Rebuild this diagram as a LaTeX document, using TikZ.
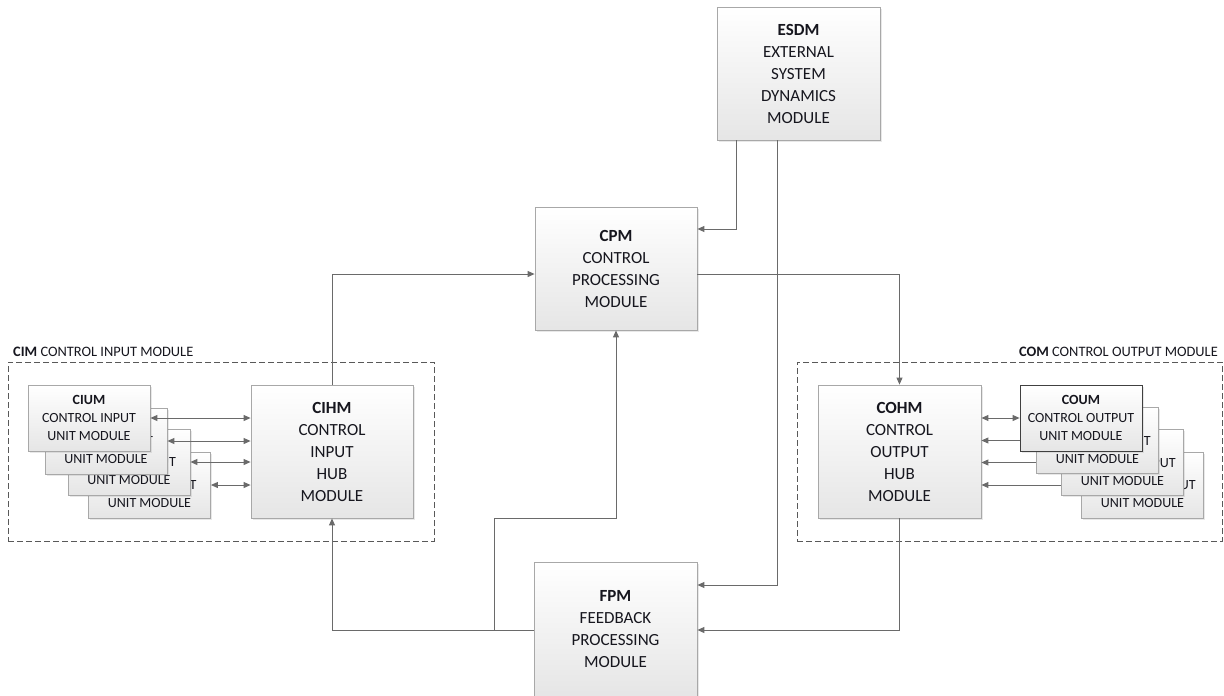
\documentclass[tikz,border=0pt]{standalone}
\usepackage{fontspec}
\setmainfont{Carlito}
\usetikzlibrary{arrows.meta,shadows}
\definecolor{linecol}{HTML}{6A6A6A}
\definecolor{boxline}{HTML}{A8A8A8}
\definecolor{txt}{HTML}{16161E}
\tikzset{
  modbox/.style={draw=boxline, line width=0.8pt, top color=white, bottom color=black!10,
    align=center, text=txt, inner sep=0pt,
    drop shadow={opacity=0.18, shadow xshift=1.5pt, shadow yshift=-1.5pt},
    font=\fontsize{17}{22}\selectfont},
  unitbox/.style={modbox, minimum width=122pt, minimum height=66pt,
    font=\fontsize{14}{18.3}\selectfont},
  dashbox/.style={draw=black!65, dash pattern=on 6pt off 3pt, line width=0.8pt, inner sep=0pt},
  conn/.style={draw=linecol, line width=0.9pt},
  arr/.style={conn, -{Triangle[length=7pt,width=6pt]}},
  darr/.style={conn, {Triangle[length=7pt,width=6pt]}-{Triangle[length=7pt,width=6pt]}},
  grplabel/.style={text=txt, inner sep=0pt, font=\fontsize{14.4}{16}\selectfont}
}
\begin{document}
\begin{tikzpicture}[x=1pt,y=1pt]
\useasboundingbox (0,0) rectangle (1224,-696);

% group frames
\node[dashbox, minimum width=426pt, minimum height=179pt] (cim) at (221,-451.5) {};
\node[dashbox, minimum width=425pt, minimum height=179pt] (com) at (1009.5,-451.5) {};
\node[grplabel, anchor=base west] (cimlab) at (13,-356) {\textbf{CIM} CONTROL INPUT MODULE};
\node[grplabel, anchor=base east] (comlab) at (1218,-356) {\textbf{COM} CONTROL OUTPUT MODULE};

% main modules
\node[modbox, minimum width=163pt, minimum height=133pt] (esdm) at (798.5,-73.5)
  {\textbf{ESDM}\\EXTERNAL\\SYSTEM\\DYNAMICS\\MODULE};
\node[modbox, minimum width=162pt, minimum height=123pt] (cpm) at (616,-268.5)
  {\textbf{CPM}\\CONTROL\\PROCESSING\\MODULE};
\node[modbox, minimum width=162pt, minimum height=133pt] (cihm) at (332,-451.5)
  {\textbf{CIHM}\\CONTROL\\INPUT\\HUB\\MODULE};
\node[modbox, minimum width=163pt, minimum height=133pt] (cohm) at (899.5,-451.5)
  {\textbf{COHM}\\CONTROL\\OUTPUT\\HUB\\MODULE};
\node[modbox, minimum width=163pt, minimum height=134pt] (fpm) at (615.5,-629)
  {\textbf{FPM}\\FEEDBACK\\PROCESSING\\MODULE};

% main connectors
\draw[arr] ([xshift=20pt]esdm.south west) |- ([yshift=39.5pt]cpm.east);
\draw[arr] ([xshift=61pt]esdm.south west) |- ([yshift=44pt]fpm.east);
\draw[arr] ([yshift=-5.5pt]cpm.east) -| (cohm.north);
\draw[arr] (cihm.north) |- ([yshift=-5.5pt]cpm.west);
\draw[arr] (cohm.south) |- ([yshift=-1pt]fpm.east);
\draw[arr] ([yshift=-1pt]fpm.west) -| (cihm.south);
\coordinate (br) at (494,-630);
\coordinate (bend) at (494,-518);
\draw[arr] (br) -- (bend) -| (cpm.south);

% control input unit modules (back to front)
\node[unitbox] (ci4) at (149.5,-485) {\textbf{CIUM}\\CONTROL INPUT\\UNIT MODULE};
\node[unitbox] (ci3) at (129,-462) {\textbf{CIUM}\\CONTROL INPUT\\UNIT MODULE};
\node[unitbox] (ci2) at (106,-441) {\textbf{CIUM}\\CONTROL INPUT\\UNIT MODULE};
\node[unitbox] (ci1) at (89,-418) {\textbf{CIUM}\\CONTROL INPUT\\UNIT MODULE};
\draw[darr] (ci1.east) -- (ci1.east -| cihm.west);
\draw[darr] (ci2.east) -- (ci2.east -| cihm.west);
\draw[darr] (ci3.east) -- (ci3.east -| cihm.west);
\draw[darr] (ci4.east) -- (ci4.east -| cihm.west);

% control output unit modules
\coordinate (o2s) at (1037,-440.5);
\coordinate (o3s) at (1062,-462.5);
\coordinate (o4s) at (1082,-485);
\draw[arr] (o2s) -- (o2s -| cohm.east);
\draw[arr] (o3s) -- (o3s -| cohm.east);
\draw[arr] (o4s) -- (o4s -| cohm.east);
\node[unitbox] (co4) at (1142.5,-485) {\textbf{COUM}\\CONTROL OUTPUT\\UNIT MODULE};
\node[unitbox] (co3) at (1122.5,-462.5) {\textbf{COUM}\\CONTROL OUTPUT\\UNIT MODULE};
\node[unitbox] (co2) at (1097.5,-440.5) {\textbf{COUM}\\CONTROL OUTPUT\\UNIT MODULE};
\node[unitbox, draw=black!75] (co1) at (1081,-418) {\textbf{COUM}\\CONTROL OUTPUT\\UNIT MODULE};
\draw[darr] (co1.west -| cohm.east) -- (co1.west);
\end{tikzpicture}
\end{document}
